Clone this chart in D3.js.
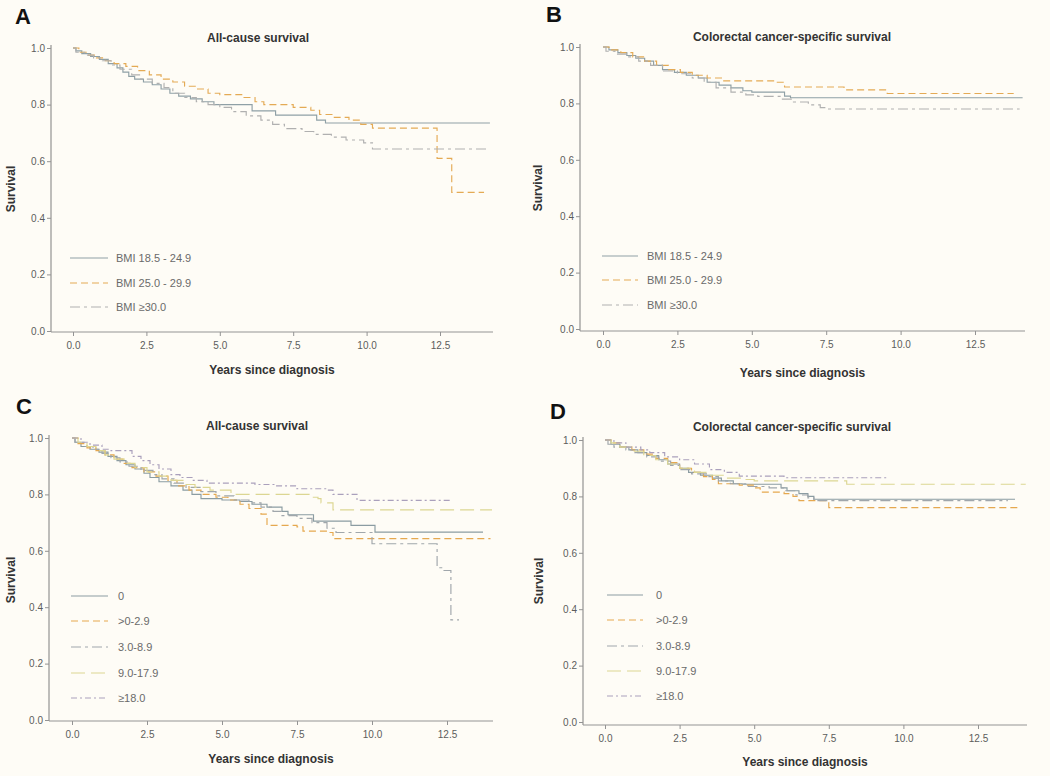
<!DOCTYPE html>
<html>
<head>
<meta charset="utf-8">
<script src="https://cdn.jsdelivr.net/npm/d3@7"></script>
<style>
  body { margin: 0; background: #fefcf6; }
  svg { display: block; }
  text { font-family: "Liberation Sans", Arial, sans-serif; }
</style>
</head>
<body>
<div id="here"></div>
<script>
// ---- data: Kaplan-Meier steps [years, survival] ----
var bmiLabels = ["BMI 18.5 - 24.9", "BMI 25.0 - 29.9", "BMI \u226530.0"];
var metLabels = ["0", ">0-2.9", "3.0-8.9", "9.0-17.9", "\u226518.0"];
var xTicks = [0, 2.5, 5, 7.5, 10, 12.5];
var yTicks = [0, 0.2, 0.4, 0.6, 0.8, 1.0];

var allNormal = [[0,1],[0.1,0.99],[0.3,0.98],[0.6,0.97],[0.9,0.96],[1.2,0.945],[1.5,0.93],[1.7,0.915],[1.9,0.9],[2.1,0.89],[2.4,0.88],[2.7,0.87],[3.0,0.855],[3.3,0.84],[3.6,0.83],[4.0,0.82],[4.4,0.81],[4.8,0.8],[6.1,0.778],[6.9,0.763],[8.3,0.745],[8.6,0.735],[14.2,0.735]];
var allOver = [[0,1],[0.2,0.985],[0.5,0.975],[0.8,0.965],[1.1,0.955],[1.4,0.945],[1.8,0.935],[2.2,0.92],[2.6,0.905],[3.0,0.89],[3.4,0.88],[3.8,0.865],[4.2,0.855],[4.6,0.84],[5.0,0.835],[5.8,0.825],[6.2,0.81],[6.5,0.8],[7.5,0.79],[8.1,0.78],[8.4,0.765],[8.9,0.755],[9.4,0.745],[9.8,0.73],[10.2,0.717],[12.4,0.61],[12.9,0.49],[14.0,0.49]];
var allObese = [[0,1],[0.1,0.985],[0.4,0.975],[0.7,0.965],[1.0,0.955],[1.3,0.94],[1.6,0.925],[2.0,0.905],[2.3,0.89],[2.7,0.875],[3.1,0.86],[3.4,0.84],[3.8,0.825],[4.2,0.81],[4.6,0.8],[5.0,0.79],[5.4,0.775],[5.9,0.76],[6.4,0.745],[6.8,0.73],[7.2,0.715],[7.8,0.705],[8.2,0.695],[8.8,0.685],[9.3,0.675],[9.9,0.665],[10.2,0.643],[14.2,0.643]];

var crcNormal = [[0,1],[0.2,0.99],[0.5,0.98],[0.8,0.97],[1.1,0.96],[1.4,0.95],[1.7,0.935],[2.0,0.92],[2.4,0.91],[2.8,0.9],[3.2,0.89],[3.5,0.875],[3.9,0.865],[4.3,0.855],[4.7,0.845],[5.0,0.84],[6.1,0.826],[6.3,0.82],[14.1,0.82]];
var crcOver = [[0,1],[0.2,0.99],[0.6,0.98],[1.0,0.965],[1.4,0.95],[1.8,0.935],[2.2,0.92],[2.6,0.91],[3.0,0.9],[3.5,0.89],[4.0,0.88],[5.8,0.875],[6.1,0.858],[8.1,0.848],[9.55,0.835],[13.8,0.835]];
var crcObese = [[0,1],[0.1,0.985],[0.4,0.975],[0.8,0.965],[1.2,0.95],[1.6,0.935],[2.0,0.915],[2.5,0.905],[3.0,0.89],[3.4,0.875],[3.8,0.855],[4.3,0.84],[4.8,0.83],[5.2,0.825],[6.0,0.815],[6.4,0.805],[6.9,0.795],[7.3,0.785],[7.5,0.78],[14.0,0.78]];

var allMet0 = [[0,1],[0.1,0.985],[0.3,0.97],[0.6,0.96],[0.9,0.95],[1.2,0.935],[1.5,0.92],[1.8,0.905],[2.1,0.89],[2.4,0.875],[2.6,0.86],[2.9,0.845],[3.3,0.83],[3.7,0.815],[4.0,0.8],[4.3,0.785],[5.0,0.78],[5.6,0.775],[6.0,0.765],[6.5,0.755],[7.0,0.74],[7.2,0.728],[8.05,0.705],[9.3,0.69],[10.1,0.666],[13.7,0.666]];
var allMet1 = [[0,1],[0.2,0.98],[0.5,0.965],[0.8,0.955],[1.1,0.94],[1.4,0.925],[1.7,0.91],[2.0,0.895],[2.4,0.88],[2.8,0.865],[3.2,0.85],[3.5,0.83],[3.9,0.815],[4.3,0.8],[4.8,0.79],[5.2,0.78],[5.6,0.765],[5.9,0.75],[6.3,0.73],[6.5,0.69],[7.5,0.685],[7.7,0.67],[8.5,0.665],[8.7,0.643],[13.95,0.643]];
var allMet2 = [[0,1],[0.1,0.985],[0.4,0.97],[0.7,0.96],[1.0,0.945],[1.3,0.93],[1.6,0.915],[1.9,0.9],[2.3,0.885],[2.7,0.87],[3.0,0.855],[3.4,0.84],[3.8,0.825],[4.3,0.81],[4.8,0.795],[5.4,0.78],[5.9,0.77],[6.3,0.755],[6.7,0.74],[7.0,0.725],[7.5,0.715],[8.0,0.7],[8.5,0.68],[8.8,0.665],[10.0,0.625],[12.17,0.54],[12.35,0.53],[12.63,0.355],[12.9,0.355]];
var allMet3 = [[0,1],[0.2,0.985],[0.5,0.97],[0.8,0.955],[1.1,0.94],[1.4,0.925],[1.8,0.91],[2.1,0.895],[2.5,0.88],[2.9,0.865],[3.3,0.85],[3.7,0.835],[4.1,0.825],[4.6,0.815],[5.3,0.8],[7.9,0.79],[8.2,0.785],[8.3,0.77],[8.7,0.745],[14.0,0.745]];
var allMet4 = [[0,1],[0.3,0.985],[0.6,0.975],[1.0,0.96],[1.3,0.955],[2.0,0.935],[2.3,0.92],[2.6,0.905],[2.9,0.89],[3.3,0.87],[3.6,0.86],[4.0,0.85],[4.5,0.84],[6.1,0.835],[6.8,0.83],[7.5,0.82],[8.5,0.815],[8.7,0.8],[9.5,0.779],[12.6,0.779]];

var crcMet0 = [[0,1],[0.2,0.985],[0.5,0.975],[0.8,0.965],[1.1,0.955],[1.4,0.945],[1.8,0.93],[2.1,0.915],[2.5,0.9],[2.8,0.885],[3.2,0.875],[3.6,0.865],[3.9,0.855],[4.3,0.845],[4.6,0.843],[5.9,0.83],[6.1,0.82],[6.5,0.81],[6.8,0.8],[7.0,0.79],[13.74,0.79]];
var crcMet1 = [[0,1],[0.2,0.99],[0.5,0.975],[0.9,0.965],[1.3,0.95],[1.7,0.935],[2.1,0.92],[2.5,0.9],[2.9,0.885],[3.3,0.87],[3.6,0.86],[3.8,0.845],[4.5,0.84],[5.0,0.83],[5.2,0.815],[6.0,0.81],[6.3,0.8],[6.5,0.785],[7.5,0.76],[13.87,0.76]];
var crcMet2 = [[0,1],[0.1,0.985],[0.3,0.975],[0.7,0.965],[1.0,0.955],[1.4,0.94],[1.8,0.925],[2.2,0.91],[2.5,0.895],[2.9,0.88],[3.4,0.87],[3.8,0.855],[4.2,0.845],[4.8,0.835],[5.5,0.83],[6.0,0.82],[6.4,0.805],[6.8,0.795],[7.0,0.785],[13.5,0.785]];
var crcMet3 = [[0,1],[0.2,0.99],[0.5,0.975],[0.9,0.96],[1.3,0.945],[1.7,0.93],[2.1,0.915],[2.5,0.9],[3.0,0.885],[3.5,0.875],[4.0,0.865],[4.6,0.86],[5.0,0.855],[8.1,0.843],[14.1,0.843]];
var crcMet4 = [[0,1],[0.3,0.99],[0.7,0.975],[1.2,0.965],[1.5,0.955],[2.0,0.94],[2.5,0.93],[3.0,0.915],[3.5,0.895],[4.0,0.885],[4.5,0.872],[5.5,0.872],[6.0,0.866],[9.5,0.866]];

// ---- styles ----
var bmiStyles = [
  {color: "#8fa0a6", dash: null},
  {color: "#e4aa55", dash: "7,4"},
  {color: "#b0b0b0", dash: "10,4,3,4"}
];
var metStyles = [
  {color: "#8b9ca2", dash: null},
  {color: "#e5a84f", dash: "7,4"},
  {color: "#a0a6ab", dash: "10,4,3,4"},
  {color: "#dcd692", dash: "14,6"},
  {color: "#aaa0bc", dash: "6,3,2,3"}
];

var W = 1050, H = 776;
var svg = d3.select("#here").append("svg")
  .attr("width", W).attr("height", H)
  .style("background", "#fefcf6");

var panels = [
  {letter: "A", title: "All-cause survival", series: [allNormal, allOver, allObese], labels: bmiLabels, styles: bmiStyles,
   left: 51, x0: 73, x125: 440, right: 493, y1: 48, y0: 331, axisY: 332, top: 45,
   titleX: 258, titleY: 38, letterX: 15, letterY: 24, ylabX: 11, ylabY: 189, tickY: 347, xtitleY: 370,
   legX1: 70, legX2: 108, legText: 116, legRows: [258, 283, 307]},
  {letter: "B", title: "Colorectal cancer-specific survival", series: [crcNormal, crcOver, crcObese], labels: bmiLabels, styles: bmiStyles,
   left: 580, x0: 603, x125: 975, right: 1025, y1: 47, y0: 329, axisY: 331, top: 44,
   titleX: 792, titleY: 37, letterX: 546, letterY: 22, ylabX: 538, ylabY: 188, tickY: 345, xtitleY: 373,
   legX1: 602, legX2: 638, legText: 647, legRows: [256, 280, 305]},
  {letter: "C", title: "All-cause survival", series: [allMet0, allMet1, allMet2, allMet3, allMet4], labels: metLabels, styles: metStyles,
   left: 49, x0: 72, x125: 447, right: 493, y1: 438, y0: 720, axisY: 721, top: 435,
   titleX: 257, titleY: 426, letterX: 16, letterY: 414, ylabX: 11, ylabY: 580, tickY: 736, xtitleY: 759,
   legX1: 71, legX2: 108, legText: 118, legRows: [596, 621, 647, 673, 698]},
  {letter: "D", title: "Colorectal cancer-specific survival", series: [crcMet0, crcMet1, crcMet2, crcMet3, crcMet4], labels: metLabels, styles: metStyles,
   left: 583, x0: 605, x125: 978, right: 1027, y1: 440, y0: 722, axisY: 725, top: 437,
   titleX: 792, titleY: 427, letterX: 550, letterY: 419, ylabX: 539, ylabY: 581, tickY: 738, xtitleY: 762,
   legX1: 607, legX2: 643, legText: 656, legRows: [595, 620, 646, 671, 696]}
];

panels.forEach(function(p) {
  var g = svg.append("g");
  var x = d3.scaleLinear().domain([0, 12.5]).range([p.x0, p.x125]);
  var y = d3.scaleLinear().domain([0, 1]).range([p.y0, p.y1]);

  // axis lines
  g.append("line").attr("x1", p.left).attr("x2", p.left).attr("y1", p.top).attr("y2", p.axisY)
    .attr("stroke", "#939393").attr("stroke-width", 1.2);
  g.append("line").attr("x1", p.left).attr("x2", p.right).attr("y1", p.axisY).attr("y2", p.axisY)
    .attr("stroke", "#939393").attr("stroke-width", 1.2);

  var xa = g.append("g").attr("transform", "translate(0," + p.axisY + ")")
    .call(d3.axisBottom(x).tickValues(xTicks).tickFormat(d3.format(".1f")).tickSize(4).tickPadding(6));
  var ya = g.append("g").attr("transform", "translate(" + p.left + ",0)")
    .call(d3.axisLeft(y).tickValues(yTicks).tickFormat(d3.format(".1f")).tickSize(4).tickPadding(2));
  [xa, ya].forEach(function(a) {
    a.select(".domain").remove();
    a.selectAll("line").attr("stroke", "#939393");
    a.selectAll("text").attr("fill", "#5c5c5c").style("font-size", "10px");
  });

  // curves
  var line = d3.line().x(function(d) { return x(d[0]); }).y(function(d) { return y(d[1]); })
    .curve(d3.curveStepAfter);
  p.series.forEach(function(s, i) {
    g.append("path").attr("d", line(s)).attr("fill", "none")
      .attr("stroke", p.styles[i].color).attr("stroke-width", 1.15)
      .attr("stroke-dasharray", p.styles[i].dash);
  });

  // legend
  p.labels.forEach(function(lab, i) {
    var yy = p.legRows[i];
    g.append("line").attr("x1", p.legX1).attr("x2", p.legX2).attr("y1", yy).attr("y2", yy)
      .attr("stroke", p.styles[i].color).attr("stroke-width", 1.15)
      .attr("stroke-dasharray", p.styles[i].dash);
    g.append("text").attr("x", p.legText).attr("y", yy).attr("dy", "0.35em")
      .attr("fill", "#6a6a6a").style("font-size", "11px").text(lab);
  });

  // texts
  g.append("text").attr("x", p.titleX).attr("y", p.titleY).attr("dy", "0.35em")
    .attr("text-anchor", "middle").attr("font-weight", "bold").attr("fill", "#333")
    .style("font-size", "12px").text(p.title);
  g.append("text").attr("x", p.letterX).attr("y", p.letterY)
    .attr("font-weight", "bold").attr("fill", "#111").style("font-size", "22px").text(p.letter);
  g.append("text").attr("transform", "translate(" + p.ylabX + "," + p.ylabY + ") rotate(-90)")
    .attr("dy", "0.35em").attr("text-anchor", "middle").attr("font-weight", "bold").attr("fill", "#333")
    .style("font-size", "12px").text("Survival");
  g.append("text").attr("x", (p.left + p.right) / 2).attr("y", p.xtitleY).attr("dy", "0.35em")
    .attr("text-anchor", "middle").attr("font-weight", "bold").attr("fill", "#333")
    .style("font-size", "12px").text("Years since diagnosis");
});
</script>
</body>
</html>
